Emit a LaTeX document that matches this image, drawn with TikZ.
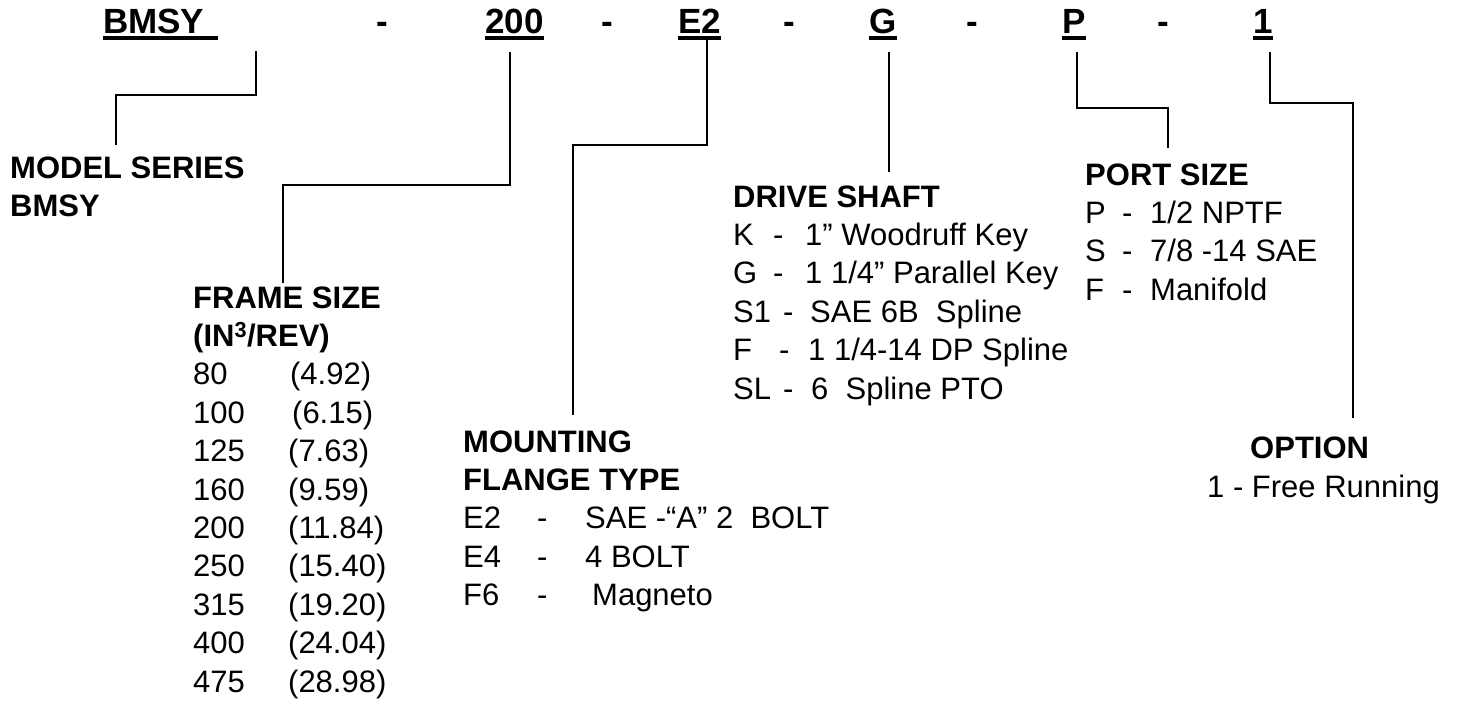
\documentclass[tikz,border=0pt]{standalone}
\usepackage{fontspec}
\setmainfont{Liberation Sans}
\usetikzlibrary{positioning}

\begin{document}
\begin{tikzpicture}[x=1pt, y=-1pt,
    code/.style={font=\fontsize{35}{42}\selectfont\bfseries, inner sep=0pt, anchor=base west},
    hyph/.style={font=\fontsize{35}{42}\selectfont\bfseries, inner sep=0pt, anchor=base},
    block/.style={font=\fontsize{31}{38.4}\selectfont, inner sep=0pt, anchor=base west},
    lead/.style={line width=2pt},
    uline/.style={line width=3.5pt}]
    \useasboundingbox (0,0) rectangle (1462,702);

    % Model code
    \node[code] (cbmsy) at (103,33) {BMSY};
    \node[hyph] (h1) at (382,33) {-};
    \node[code] (cframe) at (485,33) {200};
    \node[hyph] (h2) at (607,33) {-};
    \node[code] (cflange) at (678,33) {E2};
    \node[hyph] (h3) at (789,33) {-};
    \node[code] (cshaft) at (869,33) {G};
    \node[hyph] (h4) at (972,33) {-};
    \node[code] (cport) at (1062,33) {P};
    \node[hyph] (h5) at (1163,33) {-};
    \node[code] (copt) at (1253,33) {1};

    \draw[uline] ([yshift=-5pt]cbmsy.base west) -- ([xshift=13pt, yshift=-5pt]cbmsy.base east);
    \draw[uline] ([yshift=-5pt]cframe.base west) -- ([yshift=-5pt]cframe.base east);
    \draw[uline] ([yshift=-5pt]cflange.base west) -- ([yshift=-5pt]cflange.base east);
    \draw[uline] ([yshift=-5pt]cshaft.base west) -- ([yshift=-5pt]cshaft.base east);
    \draw[uline] ([yshift=-5pt]cport.base west) -- ([yshift=-5pt]cport.base east);
    \draw[uline] ([yshift=-5pt]copt.base west) -- ([yshift=-5pt]copt.base east);

    % Model series
    \node[block] (model) at (10,178) {\begin{tabular}[t]{@{}l@{}}
        \bfseries MODEL SERIES\\
        \bfseries BMSY
    \end{tabular}};

    % Frame size
    \node[block] (frame) at (193,308) {\begin{tabular}[t]{@{}p{95pt}@{}l@{}}
        \multicolumn{2}{@{}l@{}}{\bfseries FRAME SIZE}\\
        \multicolumn{2}{@{}l@{}}{\bfseries (IN\textsuperscript{3}/REV)}\\
        80  & \hspace{2pt}(4.92)\\
        100 & \hspace{4pt}(6.15)\\
        125 & (7.63)\\
        160 & (9.59)\\
        200 & (11.84)\\
        250 & (15.40)\\
        315 & (19.20)\\
        400 & (24.04)\\
        475 & (28.98)
    \end{tabular}};

    % Mounting flange
    \node[block] (flange) at (463,452) {\begin{tabular}[t]{@{}p{74pt}@{}p{48pt}@{}l@{}}
        \multicolumn{3}{@{}l@{}}{\bfseries MOUNTING}\\
        \multicolumn{3}{@{}l@{}}{\bfseries FLANGE TYPE}\\
        E2 & - & SAE -“A” 2\ \ BOLT\\
        E4 & - & 4 BOLT\\
        F6 & - & \hspace{7pt}Magneto
    \end{tabular}};

    % Drive shaft
    \node[block] (shaft) at (733,207) {\begin{tabular}[t]{@{}p{40pt}@{}p{32pt}@{}l@{}}
        \multicolumn{3}{@{}l@{}}{\bfseries DRIVE SHAFT}\\
        K  & - & 1” Woodruff Key\\
        G  & - & 1 1/4” Parallel Key\\
        S1 & \hspace{10pt}- & \hspace{5pt}SAE 6B\ \ Spline\\
        F  & \hspace{6pt}- & \hspace{3pt}1 1/4-14 DP Spline\\
        SL & \hspace{10pt}- & \hspace{6pt}6\ \ Spline PTO
    \end{tabular}};

    % Port size
    \node[block] (port) at (1085,185) {\begin{tabular}[t]{@{}p{37pt}@{}p{28pt}@{}l@{}}
        \multicolumn{3}{@{}l@{}}{\bfseries PORT SIZE}\\
        P & - & 1/2 NPTF\\
        S & - & 7/8 -14 SAE\\
        F & - & Manifold
    \end{tabular}};

    % Option
    \node[block, font=\fontsize{31}{38.4}\selectfont\bfseries] (opt) at (1250,458) {OPTION};
    \node[block] (optfree) at (1207,497) {1 - Free Running};

    % Leaders
    \coordinate (bmsyA) at (256,51);
    \coordinate (bmsyB) at (116,145);
    \coordinate (frameA) at (510,52);
    \coordinate (frameB) at (283,283);
    \coordinate (flangeA) at (707,40);
    \coordinate (flangeB) at (573,415);
    \coordinate (shaftA) at (889,52);
    \coordinate (shaftB) at (889,172);
    \coordinate (portA) at (1077,52);
    \coordinate (portB) at (1168,148);
    \coordinate (optA) at (1270,52);
    \coordinate (optB) at (1353,418);

    \draw[lead] (bmsyA) -- ++(0,44) -| (bmsyB);
    \draw[lead] (frameA) -- ++(0,133) -| (frameB);
    \draw[lead] (flangeA) -- ++(0,105) -| (flangeB);
    \draw[lead] (shaftA) -- (shaftB);
    \draw[lead] (portA) -- ++(0,56) -| (portB);
    \draw[lead] (optA) -- ++(0,51) -| (optB);
\end{tikzpicture}
\end{document}
